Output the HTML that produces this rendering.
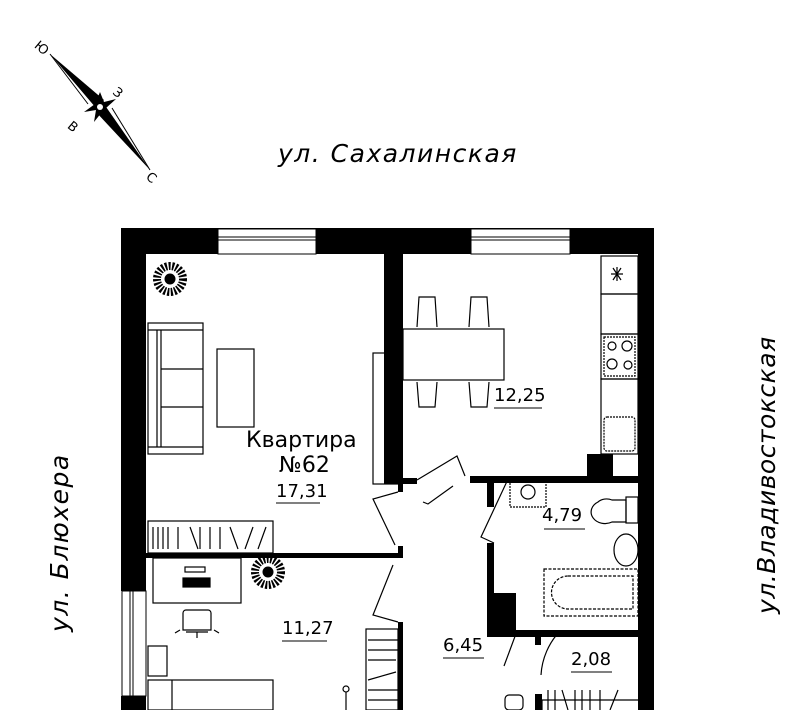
<!DOCTYPE html>
<html><head><meta charset="utf-8"><style>
html,body{margin:0;padding:0;background:#fff;width:804px;height:710px;overflow:hidden}
svg{display:block}
text{font-family:"DejaVu Sans","Liberation Sans",sans-serif;fill:#000}
</style></head><body>
<svg width="804" height="710" viewBox="0 0 804 710" xmlns="http://www.w3.org/2000/svg">
<g>
<polygon points="50,54 104,100 96,108" fill="#000"/>
<line x1="50" y1="54" x2="88" y2="104" stroke="#000" stroke-width="1"/>
<polygon points="150,170 96,112 104,104" fill="#000"/>
<line x1="150" y1="170" x2="112" y2="108" stroke="#000" stroke-width="1"/>
<polygon points="100,92 104,102 116,99 106,108 112,120 102,112 94,122 96,110 84,112 95,104" fill="#000"/>
<circle cx="100" cy="107" r="3" fill="#fff"/>
<text x="36" y="52" font-size="13" transform="rotate(40 42 46)">Ю</text>
<text x="113" y="98" font-size="13" transform="rotate(40 119 94)">З</text>
<text x="70" y="132" font-size="13" transform="rotate(40 75 125)">В</text>
<text x="148" y="182" font-size="13" transform="rotate(40 152 176)">С</text>
</g>
<text x="278" y="162" font-size="25" font-style="italic" letter-spacing="1.5">ул. Сахалинская</text>
<text transform="translate(68,632) rotate(-90)" font-size="25" font-style="italic" letter-spacing="1.5">ул. Блюхера</text>
<text transform="translate(775,614) rotate(-90)" font-size="25" font-style="italic" letter-spacing="0.5">ул.Владивостокская</text>

<g fill="#000">
<rect x="121" y="228" width="533" height="26"/>
<rect x="121" y="228" width="25" height="363"/>
<rect x="121" y="696" width="25" height="14"/>
<rect x="638" y="228" width="16" height="482"/>
<rect x="384" y="254" width="19" height="230"/>
<rect x="146" y="553" width="257" height="5"/>
<rect x="398" y="480" width="5" height="12"/>
<rect x="398" y="546" width="5" height="12"/>
<rect x="398" y="622" width="5" height="88"/>
<rect x="403" y="478" width="14" height="6"/>
<rect x="470" y="476" width="168" height="7"/>
<rect x="587" y="454" width="26" height="24"/>
<rect x="487" y="483" width="7" height="24"/>
<rect x="487" y="543" width="7" height="94"/>
<rect x="494" y="593" width="22" height="38"/>
<rect x="487" y="630" width="151" height="7"/>
<rect x="535" y="637" width="6" height="8"/>
<rect x="535" y="694" width="7" height="16"/>
</g>
<g fill="#fff" stroke="#000" stroke-width="1">
<rect x="218" y="229" width="98" height="25"/>
<line x1="218" y1="237" x2="316" y2="237"/><line x1="218" y1="240" x2="316" y2="240"/>
<rect x="471" y="229" width="99" height="25"/>
<line x1="471" y1="237" x2="570" y2="237"/><line x1="471" y1="240" x2="570" y2="240"/>
<rect x="122" y="591" width="24" height="105"/>
<line x1="130" y1="591" x2="130" y2="696"/><line x1="133" y1="591" x2="133" y2="696"/>
</g>
<g fill="none" stroke="#000" stroke-width="1.2">
<rect x="148" y="323" width="55" height="131"/>
<line x1="157" y1="330" x2="157" y2="447"/><line x1="161" y1="330" x2="161" y2="447"/>
<line x1="148" y1="330" x2="203" y2="330"/><line x1="148" y1="447" x2="203" y2="447"/>
<line x1="161" y1="369" x2="203" y2="369"/><line x1="161" y1="407" x2="203" y2="407"/>
<rect x="217" y="349" width="37" height="78"/>
<rect x="373" y="353" width="25" height="131"/>
<line x1="386" y1="360" x2="386" y2="420" stroke-width="3"/>
<rect x="148" y="521" width="125" height="32"/>
<path d="M153 527v22M158 527v22M163 527v22M168 527v22M178 527v22M190 527l8 22M200 527v22M210 527v22M220 527v22M230 527l8 22M245 549l8-22M258 549l8-22"/>
<rect x="403" y="329" width="101" height="51"/>
<path d="M417 327l2-30h16l2 30M469 327l2-30h16l2 30M417 382l2 25h16l2-25M469 382l2 25h16l2-25"/>
<rect x="601" y="256" width="37" height="38"/>
<rect x="601" y="294" width="37" height="40"/>
<rect x="601" y="334" width="37" height="45"/>
<rect x="604" y="337" width="31" height="39" stroke-dasharray="2 1"/>
<circle cx="612" cy="346" r="4"/><circle cx="627" cy="346" r="5"/><circle cx="612" cy="364" r="5"/><circle cx="628" cy="365" r="4"/>
<rect x="601" y="379" width="37" height="75"/>
<rect x="604" y="417" width="31" height="34" rx="3" stroke-dasharray="2 1"/>
<path d="M613 268l8 12M621 268l-8 12M611 274h12M617 267v14"/>
<rect x="510" y="478" width="36" height="29" stroke-dasharray="2 1"/>
<circle cx="528" cy="492" r="7"/>
<path d="M598 502a12 10 0 0 0 14 20h14v-22h-14a12 10 0 0 0-14 2z"/>
<rect x="626" y="497" width="12" height="26"/>
<ellipse cx="626" cy="550" rx="12" ry="16"/>
<rect x="544" y="569" width="94" height="47" stroke-dasharray="3 1.5"/>
<path d="M568 576h65v33h-65a16 16 0 0 1 0-33z" stroke-dasharray="3 1.5"/>
<path d="M541 675a70 70 0 0 1 19-44M517 631l-13 35"/>
<path d="M542 700v10M548 690v20M555 690v20M562 690l6 20M575 690v20M582 690v20M590 690v20M600 690v20M610 710l8-20M542 700h96"/>
<path d="M453 486l-25 18l-5-2" />
<path d="M417 480l40-24 8 20" />
<path d="M398 492l-25 7 22 46" />
<path d="M398 622l-25-7 20-50" />
<path d="M494 543l-13-6 28-60" />
<rect x="153" y="558" width="88" height="45"/>
<rect x="185" y="567" width="20" height="5"/><rect x="183" y="578" width="27" height="9" fill="#000"/>
<path d="M183 630v-17a3 3 0 0 1 3-3h22a3 3 0 0 1 3 3v17zM180 630l-5 3M214 630l5 3M186 632h22M197 632v6"/>
<rect x="148" y="646" width="19" height="30"/>
<rect x="148" y="680" width="125" height="30"/>
<line x1="172" y1="680" x2="172" y2="710"/>
<rect x="366" y="629" width="32" height="81"/>
<path d="M368 640h30M368 650h30M368 660h28M368 680l28-8M368 690h30M368 700h30"/>
<circle cx="346" cy="689" r="3"/><line x1="346" y1="692" x2="346" y2="710"/>
<rect x="505" y="695" width="18" height="15" rx="4"/>
</g>
<g stroke="#000">
<circle cx="170" cy="279" r="13" fill="none" stroke-dasharray="2 1.5" stroke-width="8"/>
<circle cx="170" cy="279" r="5" fill="#000"/>
<circle cx="268" cy="572" r="13" fill="none" stroke-dasharray="2 1.5" stroke-width="8"/>
<circle cx="268" cy="572" r="5" fill="#000"/>
</g>
<g font-family="DejaVu Sans Condensed, DejaVu Sans, sans-serif">
<text x="246" y="447" font-size="22">Квартира</text>
<text x="279" y="472" font-size="22">№62</text>
<text x="276" y="497" font-size="18">17,31</text><line x1="276" y1="503" x2="320" y2="503" stroke="#000"/>
<text x="494" y="401" font-size="18">12,25</text><line x1="494" y1="408" x2="542" y2="408" stroke="#000"/>
<text x="542" y="521" font-size="18">4,79</text><line x1="544" y1="529" x2="585" y2="529" stroke="#000"/>
<text x="282" y="634" font-size="18">11,27</text><line x1="282" y1="641" x2="327" y2="641" stroke="#000"/>
<text x="443" y="651" font-size="18">6,45</text><line x1="443" y1="658" x2="484" y2="658" stroke="#000"/>
<text x="571" y="665" font-size="18">2,08</text><line x1="571" y1="672" x2="612" y2="672" stroke="#000"/>
</g>
</svg>
</body></html>
